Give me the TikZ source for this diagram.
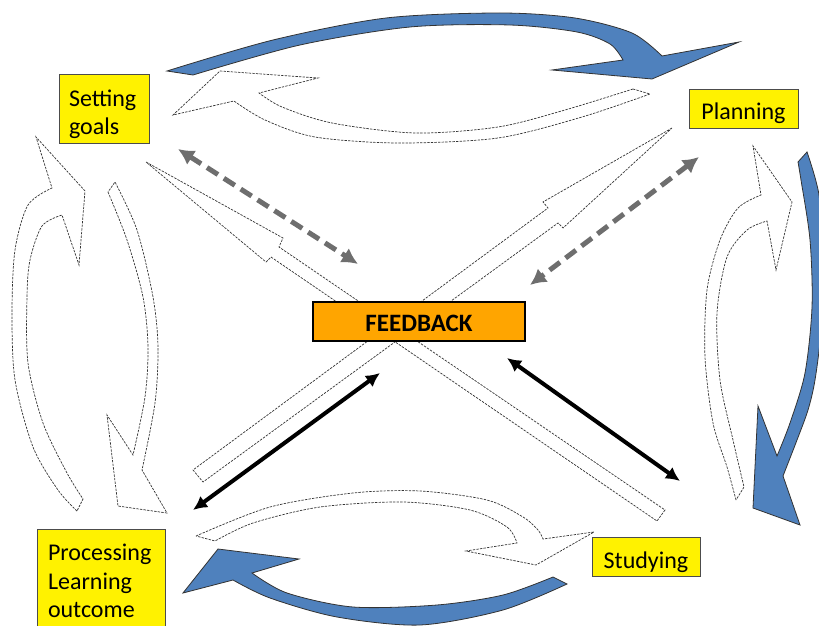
\documentclass[tikz,border=0pt]{standalone}
\usepackage{fontspec}
\setmainfont{Carlito}
\usetikzlibrary{arrows.meta}
\usetikzlibrary{positioning}
\definecolor{arrblue}{RGB}{79,129,189}
\definecolor{fborange}{RGB}{255,165,0}
\tikzset{blk/.style = {fill=arrblue, draw=black!80, line width=0.8pt}}
\tikzset{hol/.style = {draw=black!80, line width=0.7pt, dash pattern=on 2.4pt off 1.2pt}}
\tikzset{lbl/.style = {draw=black!70, fill=yellow, line width=0.8pt, inner sep=0pt,
                       font=\fontsize{24}{28.5}\selectfont}}
\tikzset{gdash/.style = {draw=black!57, line width=5pt, dash pattern=on 13pt off 7pt,
                         arrows={Latex[length=16pt,width=17pt]-Latex[length=16pt,width=17pt]}}}
\tikzset{bdbl/.style = {line width=4pt,
                        arrows={Latex[length=14pt,width=14pt]-Latex[length=14pt,width=14pt]}}}

\begin{document}
\begin{tikzpicture}[x=1pt, y=-1pt]
  \useasboundingbox (0,0) rectangle (819,626);
  \clip (0,0) rectangle (819,626);

  \draw [blk] plot [smooth] coordinates {(167,71) (273,40) (386,18) (500,13) (575,18) (632,33) (662,56)} -- (739,42) -- (652,79) -- (552,70) -- plot [smooth] coordinates {(623,60) (610,44) (577,32) (510,25) (410,27) (300,45) (193,75)} -- cycle;
  \draw [hol] plot [smooth] coordinates {(633,89) (565,110) (498,127) (415,133) (332,123) (282,107) (259,93)} -- (318,78) -- (220,71) -- (173,115) -- plot [smooth] coordinates {(234,101) (265,120) (315,137) (398,143) (498,138) (582,117) (650,94)} -- cycle;

  \draw [hol] plot [smooth] coordinates {(77,511) (58,490) (33,447) (15,380) (12,313) (15,250) (28,205) (52,188)} -- (36,137) -- (85,191) -- (79,265) -- plot [smooth] coordinates {(62,215) (42,226) (30,260) (27,297) (28,363) (43,423) (67,473) (83,499)} -- cycle;
  \draw [hol] plot [smooth] coordinates {(108,192) (127,240) (143,297) (148,347) (145,397) (133,455)} -- (107,415) -- (118,506) -- (167,513) -- plot [smooth] coordinates {(142,470) (155,403) (158,347) (153,297) (137,230) (115,182)} -- cycle;

  \draw [hol] plot [smooth] coordinates {(736,500) (727,467) (713,423) (705,357) (707,290) (720,240) (738,208) (761,195)} -- (753,146) -- (792,202) -- (776,270) -- plot [smooth] coordinates {(767,221) (747,230) (727,257) (717,313) (720,380) (733,440) (744,487)} -- cycle;
  \draw [blk] plot [smooth] coordinates {(798,162) (801,180) (810,240) (812,307) (805,373) (790,423) (777,456)} -- (758,406) -- (753,508) -- (800,525) -- plot [smooth] coordinates {(783,476) (797,440) (808,410) (815,380) (821,330) (823,260) (819,195) (807,152)} -- cycle;

  \draw [hol] plot [smooth] coordinates {(196,536) (270,507) (353,493) (420,491) (487,500) (523,517) (538,530) (543,539)} -- (594,532) -- (536,565) -- (466,551) -- plot [smooth] coordinates {(517,543) (507,527) (470,510) (403,502) (320,507) (253,523) (215,541)} -- cycle;
  \draw [blk] plot [smooth] coordinates {(567,584) (503,610) (420,625) (337,617) (270,598) (233,580)} -- (183,593) -- (218,549) -- (299,559) -- plot [smooth] coordinates {(252,573) (287,593) (353,607) (437,605) (503,595) (553,577)} -- cycle;

  \draw [hol] (146,162) -- (283,238) -- (279,247) -- (665,510) -- (657,521) -- (271,257) -- (266,262) -- cycle;
  \draw [hol] (672,128) -- (543,202) -- (548,208) -- (193,470) -- (203,482) -- (558,223) -- (563,228) -- cycle;

  \node [lbl, minimum width=90pt, minimum height=69pt, text width=70pt, align=left] (goals) at (104,108.5) {\rule{0pt}{28pt}Setting\\goals};
  \node [lbl, minimum width=109pt, minimum height=39pt, text height=24pt, text depth=3pt] (plan) at (743.5,108.5) {Planning};
  \node [lbl, minimum width=108pt, minimum height=39pt, text height=25pt, text depth=2pt] (study) at (646,556.5) {Studying};
  \node [lbl, minimum width=128pt, minimum height=104pt, text width=106pt, align=left] (proc) at (101,581) {Processing\\Learning\\outcome};
  \node [draw, fill=fborange, line width=2pt, minimum width=212pt, minimum height=39pt, inner sep=0pt,
         text height=20pt, text depth=0pt, font=\fontsize{25}{30}\selectfont\bfseries] (fb) at (419,321.5) {FEEDBACK};

  \coordinate (g1) at (178,149);
  \coordinate (g2) at (358,264);
  \coordinate (p1) at (699,157);
  \coordinate (p2) at (530,285);
  \coordinate (s1) at (507,358);
  \coordinate (s2) at (680,481);
  \coordinate (o1) at (380,373);
  \coordinate (o2) at (193,510);
  \draw [gdash] (g1) -- (g2);
  \draw [gdash] (p1) -- (p2);
  \draw [bdbl] (s1) -- (s2);
  \draw [bdbl] (o1) -- (o2);
\end{tikzpicture}
\end{document}
